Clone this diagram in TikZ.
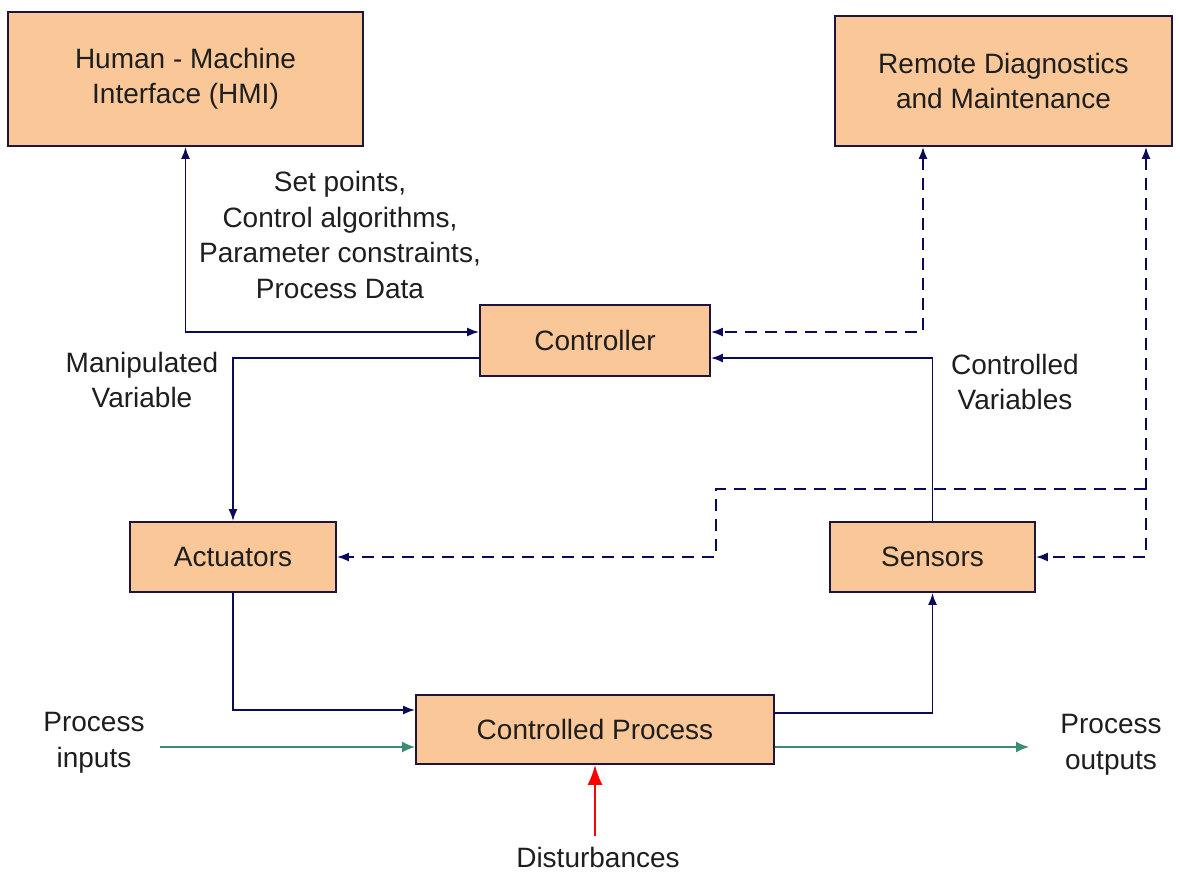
\documentclass[tikz,border=0pt]{standalone}
\usepackage{fontspec}
\setmainfont{Liberation Sans}
\usetikzlibrary{arrows.meta}

\definecolor{boxfill}{RGB}{250,200,152}
\definecolor{boxline}{RGB}{30,20,60}
\definecolor{navy}{RGB}{10,10,90}
\definecolor{teal}{RGB}{60,140,110}
\definecolor{txt}{RGB}{30,30,30}

\tikzset{
  blk/.style={draw=boxline, line width=1.8pt, fill=boxfill, align=center,
    text=txt, inner sep=0pt},
  lbl/.style={align=center, text=txt},
  wire/.style={draw=navy, line width=1.8pt, -{Latex[length=12pt,width=9pt]}},
  both/.style={wire, {Latex[length=12pt,width=9pt]}-{Latex[length=12pt,width=9pt]}},
  remote/.style={dash pattern=on 12pt off 8pt},
  flow/.style={draw=teal, line width=1.8pt, -{Latex[length=13pt,width=11pt]}},
}

\begin{document}
\begin{tikzpicture}[x=1pt, y=-1pt, font=\fontsize{28}{35.5}\selectfont]
  \useasboundingbox (0,0) rectangle (1180,878);

  % boxes
  \node[blk, minimum width=355pt, minimum height=134pt] (hmi) at (185.5,79) {Human - Machine\\Interface (HMI)};
  \node[blk, minimum width=337pt, minimum height=130pt] (rdm) at (1003.5,81) {Remote Diagnostics\\and Maintenance};
  \node[blk, minimum width=230pt, minimum height=71pt] (ctrl) at (595,340.5) {Controller};
  \node[blk, minimum width=206pt, minimum height=70pt] (act) at (233,557) {Actuators};
  \node[blk, minimum width=205pt, minimum height=70pt] (sens) at (932.5,557) {Sensors};
  \node[blk, minimum width=358pt, minimum height=69pt] (proc) at (595,729.5) {Controlled Process};

  % labels
  \node[lbl] (setp) at (340,235) {Set points,\\Control algorithms,\\Parameter constraints,\\Process Data};
  \node[lbl] (manv) at (142,380) {Manipulated\\Variable};
  \node[lbl] (ctlv) at (1015,382) {Controlled\\Variables};
  \node[lbl] (inp) at (94,743) {Process\\inputs};
  \node[lbl] (outp) at (1111,745) {Process\\outputs};
  \node[lbl] (dist) at (598,857) {Disturbances};

  \coordinate (inbeg) at (160,747);
  \coordinate (outend) at (1029,747);
  \coordinate (distbeg) at (595,836);
  \coordinate (br) at (1146,489);
  \coordinate (jog) at (716,489);

  % control loop
  \draw[both] (hmi.south) |- ([yshift=8.5pt]ctrl.west);
  \draw[wire] ([yshift=-17.5pt]ctrl.west) -| (act.north);
  \draw[wire] (act.south) |- ([yshift=19.5pt]proc.west);
  \draw[wire] ([yshift=16.5pt]proc.east) -| (sens.south);
  \draw[wire] (sens.north) |- ([yshift=-17.5pt]ctrl.east);

  % remote links
  \draw[both, remote] ([xshift=-80.5pt]rdm.south) |- ([yshift=8.5pt]ctrl.east);
  \draw[both, remote] ([xshift=142.5pt]rdm.south) |- (sens.east);
  \draw[wire, remote] (br) -- (jog) |- (act.east);

  % process flows
  \draw[flow] (inbeg) -- ([yshift=-17.5pt]proc.west);
  \draw[flow] ([yshift=-17.5pt]proc.east) -- (outend);
  \draw[line width=1.8pt, red, -{Latex[length=20pt,width=15pt]}] (distbeg) -- (proc.south);
\end{tikzpicture}
\end{document}
